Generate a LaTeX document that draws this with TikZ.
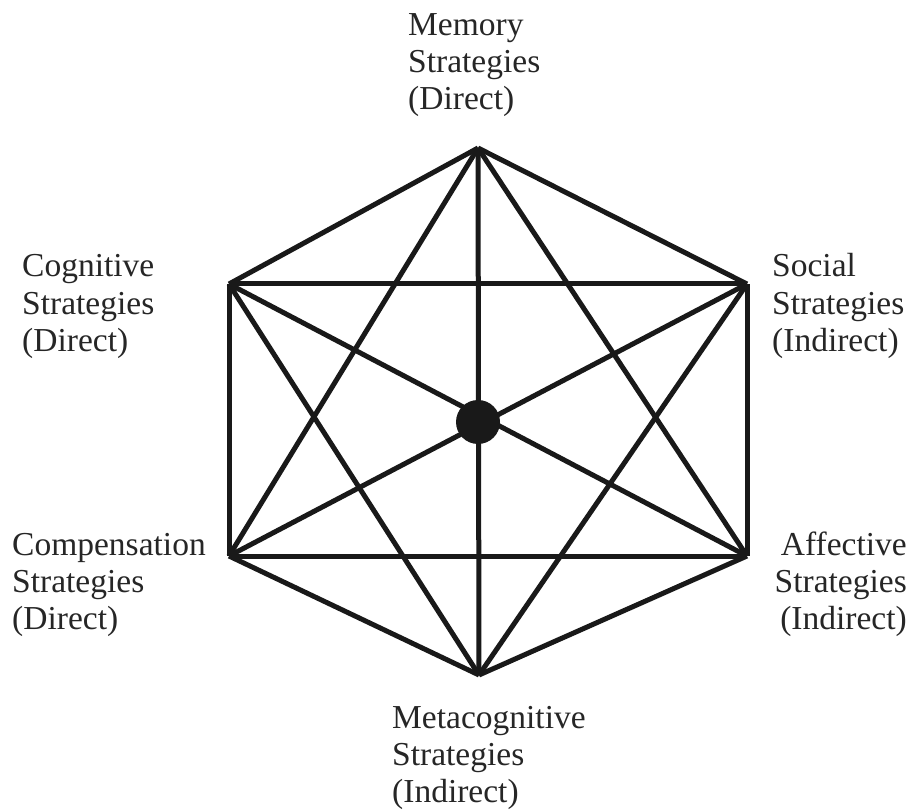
\documentclass[tikz,border=0pt]{standalone}
\usepackage{fontspec}
\setmainfont{Liberation Serif}
\begin{document}
\begin{tikzpicture}[x=1pt,y=-1pt,
  edge/.style={line width=5pt,line join=miter,black!90},
  lbl/.style={inner sep=0pt,font=\fontsize{33.5}{37}\selectfont,text=black!85}]
\useasboundingbox (0,0) rectangle (910,810);
\coordinate (T) at (478,148);
\coordinate (UL) at (229,284);
\coordinate (UR) at (747,284);
\coordinate (LL) at (229,556);
\coordinate (LR) at (747,556);
\coordinate (B) at (479,675);
\foreach \a/\b in {T/UL,T/UR,T/LL,T/LR,T/B,UL/UR,UL/LL,UL/LR,UL/B,UR/LL,UR/LR,UR/B,LL/LR,LL/B,LR/B}
  \draw[edge] (\a) -- (\b);
\fill[black!90] (478,422) circle (22) node (hub) {};
\node[lbl,anchor=base west,align=left] (mem) at (408,110) {Memory\\Strategies\\(Direct)};
\node[lbl,anchor=base west,align=left] (cog) at (22,351) {Cognitive\\Strategies\\(Direct)};
\node[lbl,anchor=base west,align=left] (soc) at (772,351) {Social\\Strategies\\(Indirect)};
\node[lbl,anchor=base west,align=left] (comp) at (12,629) {Compensation\\Strategies\\(Direct)};
\node[lbl,anchor=base east,align=right] (aff) at (907,629) {Affective\\Strategies\\(Indirect)};
\node[lbl,anchor=base west,align=left] (meta) at (392,802) {Metacognitive\\Strategies\\(Indirect)};
\end{tikzpicture}
\end{document}
